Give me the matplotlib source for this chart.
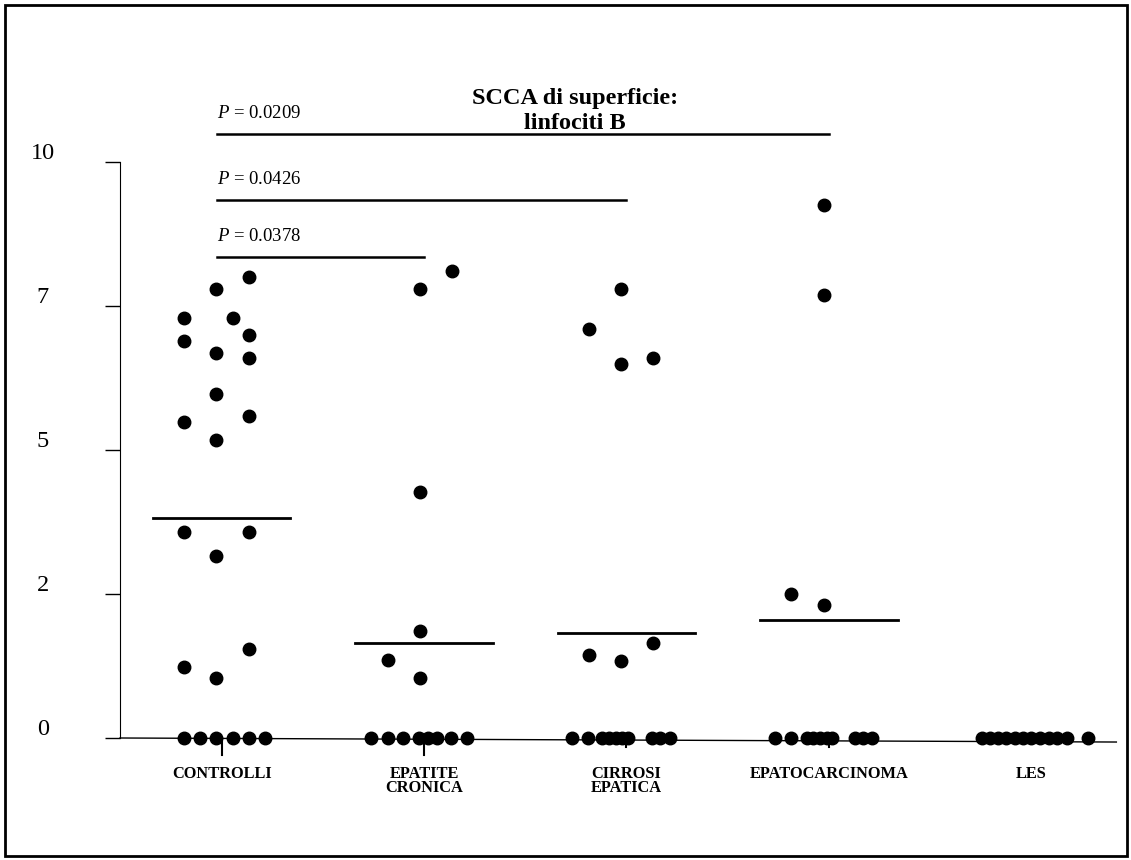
import numpy as np
import matplotlib
matplotlib.use('Agg')
import matplotlib.pyplot as plt
from matplotlib.patches import Rectangle

plt.rcParams['font.family'] = ['Liberation Serif', 'DejaVu Serif']
plt.rcParams['mathtext.fontset'] = 'custom'
plt.rcParams['mathtext.it'] = 'Liberation Serif:italic'
plt.rcParams['mathtext.rm'] = 'Liberation Serif'

# categorie
gruppi = ['CONTROLLI', 'EPATITE\nCRONICA', 'CIRROSI\nEPATICA', 'EPATOCARCINOMA', 'LES']

# valori (y) e scostamento orizzontale dei punti (jitter) per gruppo
controlli_y = [8.01, 7.80, 7.30, 7.30, 7.00, 6.90, 6.69, 6.59, 5.98, 5.59, 5.49, 5.18,
               3.58, 3.58, 3.16, 1.24, 1.04, 1.55, 0, 0, 0, 0, 0, 0]
controlli_dx = [0.135, -0.028, -0.185, 0.054, 0.135, -0.185, -0.028, 0.135, -0.028, 0.135, -0.185, -0.028,
                -0.185, 0.135, -0.028, -0.185, -0.028, 0.135,
                -0.185, -0.107, -0.028, 0.054, 0.135, 0.214]

epatite_y = [8.11, 7.80, 4.27, 1.86, 1.35, 1.04, 0, 0, 0, 0, 0, 0, 0, 0]
epatite_dx = [0.14, -0.02, -0.02, -0.02, -0.18, -0.02,
              -0.26, -0.18, -0.105, -0.023, 0.018, 0.064, 0.133, 0.212]

cirrosi_y = [7.80, 7.10, 6.49, 6.59, 1.65, 1.44, 1.34, 0, 0, 0, 0, 0, 0, 0, 0, 0, 0]
cirrosi_dx = [-0.027, -0.186, -0.027, 0.133, 0.133, -0.186, -0.027,
              -0.267, -0.19, -0.119, -0.086, -0.053, -0.02, 0.008, 0.124, 0.165, 0.214]

epato_y = [9.25, 7.69, 2.50, 2.31, 0, 0, 0, 0, 0, 0, 0, 0, 0, 0]
epato_dx = [-0.025, -0.025, -0.186, -0.025,
            -0.267, -0.189, -0.11, -0.078, -0.044, -0.011, 0.013, 0.128, 0.169, 0.211]

les_y = [0, 0, 0, 0, 0, 0, 0, 0, 0, 0, 0, 0]
les_dx = [-0.242, -0.203, -0.163, -0.124, -0.079, -0.04, 0, 0.044, 0.089, 0.128, 0.178, 0.282]

valori = [controlli_y, epatite_y, cirrosi_y, epato_y, les_y]
jitter = [controlli_dx, epatite_dx, cirrosi_dx, epato_dx, les_dx]

# medie (LES senza linea)
medie = [3.82, 1.65, 1.82, 2.05]

# confronti: (gruppo finale, altezza linea, testo)
p_fine = [3, 2, 1]
p_alt = [10.49, 9.34, 8.35]
p_testo = ['0.0209', '0.0426', '0.0378']

ytick_pos = [0, 2.5, 5, 7.5, 10]
ytick_lab = ['0', '2', '5', '7', '10']

fig = plt.figure(figsize=(11.31, 8.6), dpi=100)
ax = fig.add_axes([120/1131, 1 - 760/860, 1000/1131, 670/860])
ax.set_xlim(-0.502, 4.438)
ax.set_ylim(-0.382, 11.25)

for i in range(len(gruppi)):
    xs = np.array(jitter[i]) + i
    ax.plot(xs, valori[i], 'o', color='black', ms=9, clip_on=False, zorder=3)

for i, m in enumerate(medie):
    ax.plot([i - 0.34, i + 0.34], [m, m], color='black', lw=2)

for k in range(len(p_fine)):
    ax.plot([-0.023, p_fine[k]], [p_alt[k], p_alt[k]], color='black', lw=1.8)
    ax.text(-0.023, p_alt[k] + 0.36, r'$P$ = ' + p_testo[k], fontsize=13.5,
            ha='left', va='center')

# asse x leggermente inclinato
ax.plot([-0.502, 4.42], [0, -0.07], color='black', lw=1, zorder=1, clip_on=False)
tick_len = [0.3, 0.3, 0.16, 0.16, 0.08]
for i in range(len(gruppi)):
    ax.plot([i, i], [0, -tick_len[i]], color='black', lw=1.5, clip_on=False)
    ax.text(i, -0.48, gruppi[i], ha='center', va='top', fontsize=11.8,
            fontweight='bold', linespacing=0.9)

for s in ['top', 'right', 'bottom']:
    ax.spines[s].set_visible(False)
ax.spines['left'].set_bounds(0, 10)
ax.set_xticks([])
ax.set_yticks(ytick_pos)
ax.set_yticklabels([])
ax.tick_params(axis='y', length=11, width=1, direction='out')
for v, lab in zip(ytick_pos, ytick_lab):
    ax.text(-0.077, v + 0.14, lab, transform=ax.get_yaxis_transform(),
            ha='center', va='center', fontsize=17.5)

fig.text(575/1131, 1 - 111/860, 'SCCA di superficie:\nlinfociti B', ha='center',
         va='center', fontsize=17.5, fontweight='bold', linespacing=1.25)

fig.patches.append(Rectangle((5/1131, 4/860), 1122/1131, 851/860, transform=fig.transFigure,
                             fill=False, edgecolor='black', lw=2))

fig.savefig('out.png', dpi=100)
